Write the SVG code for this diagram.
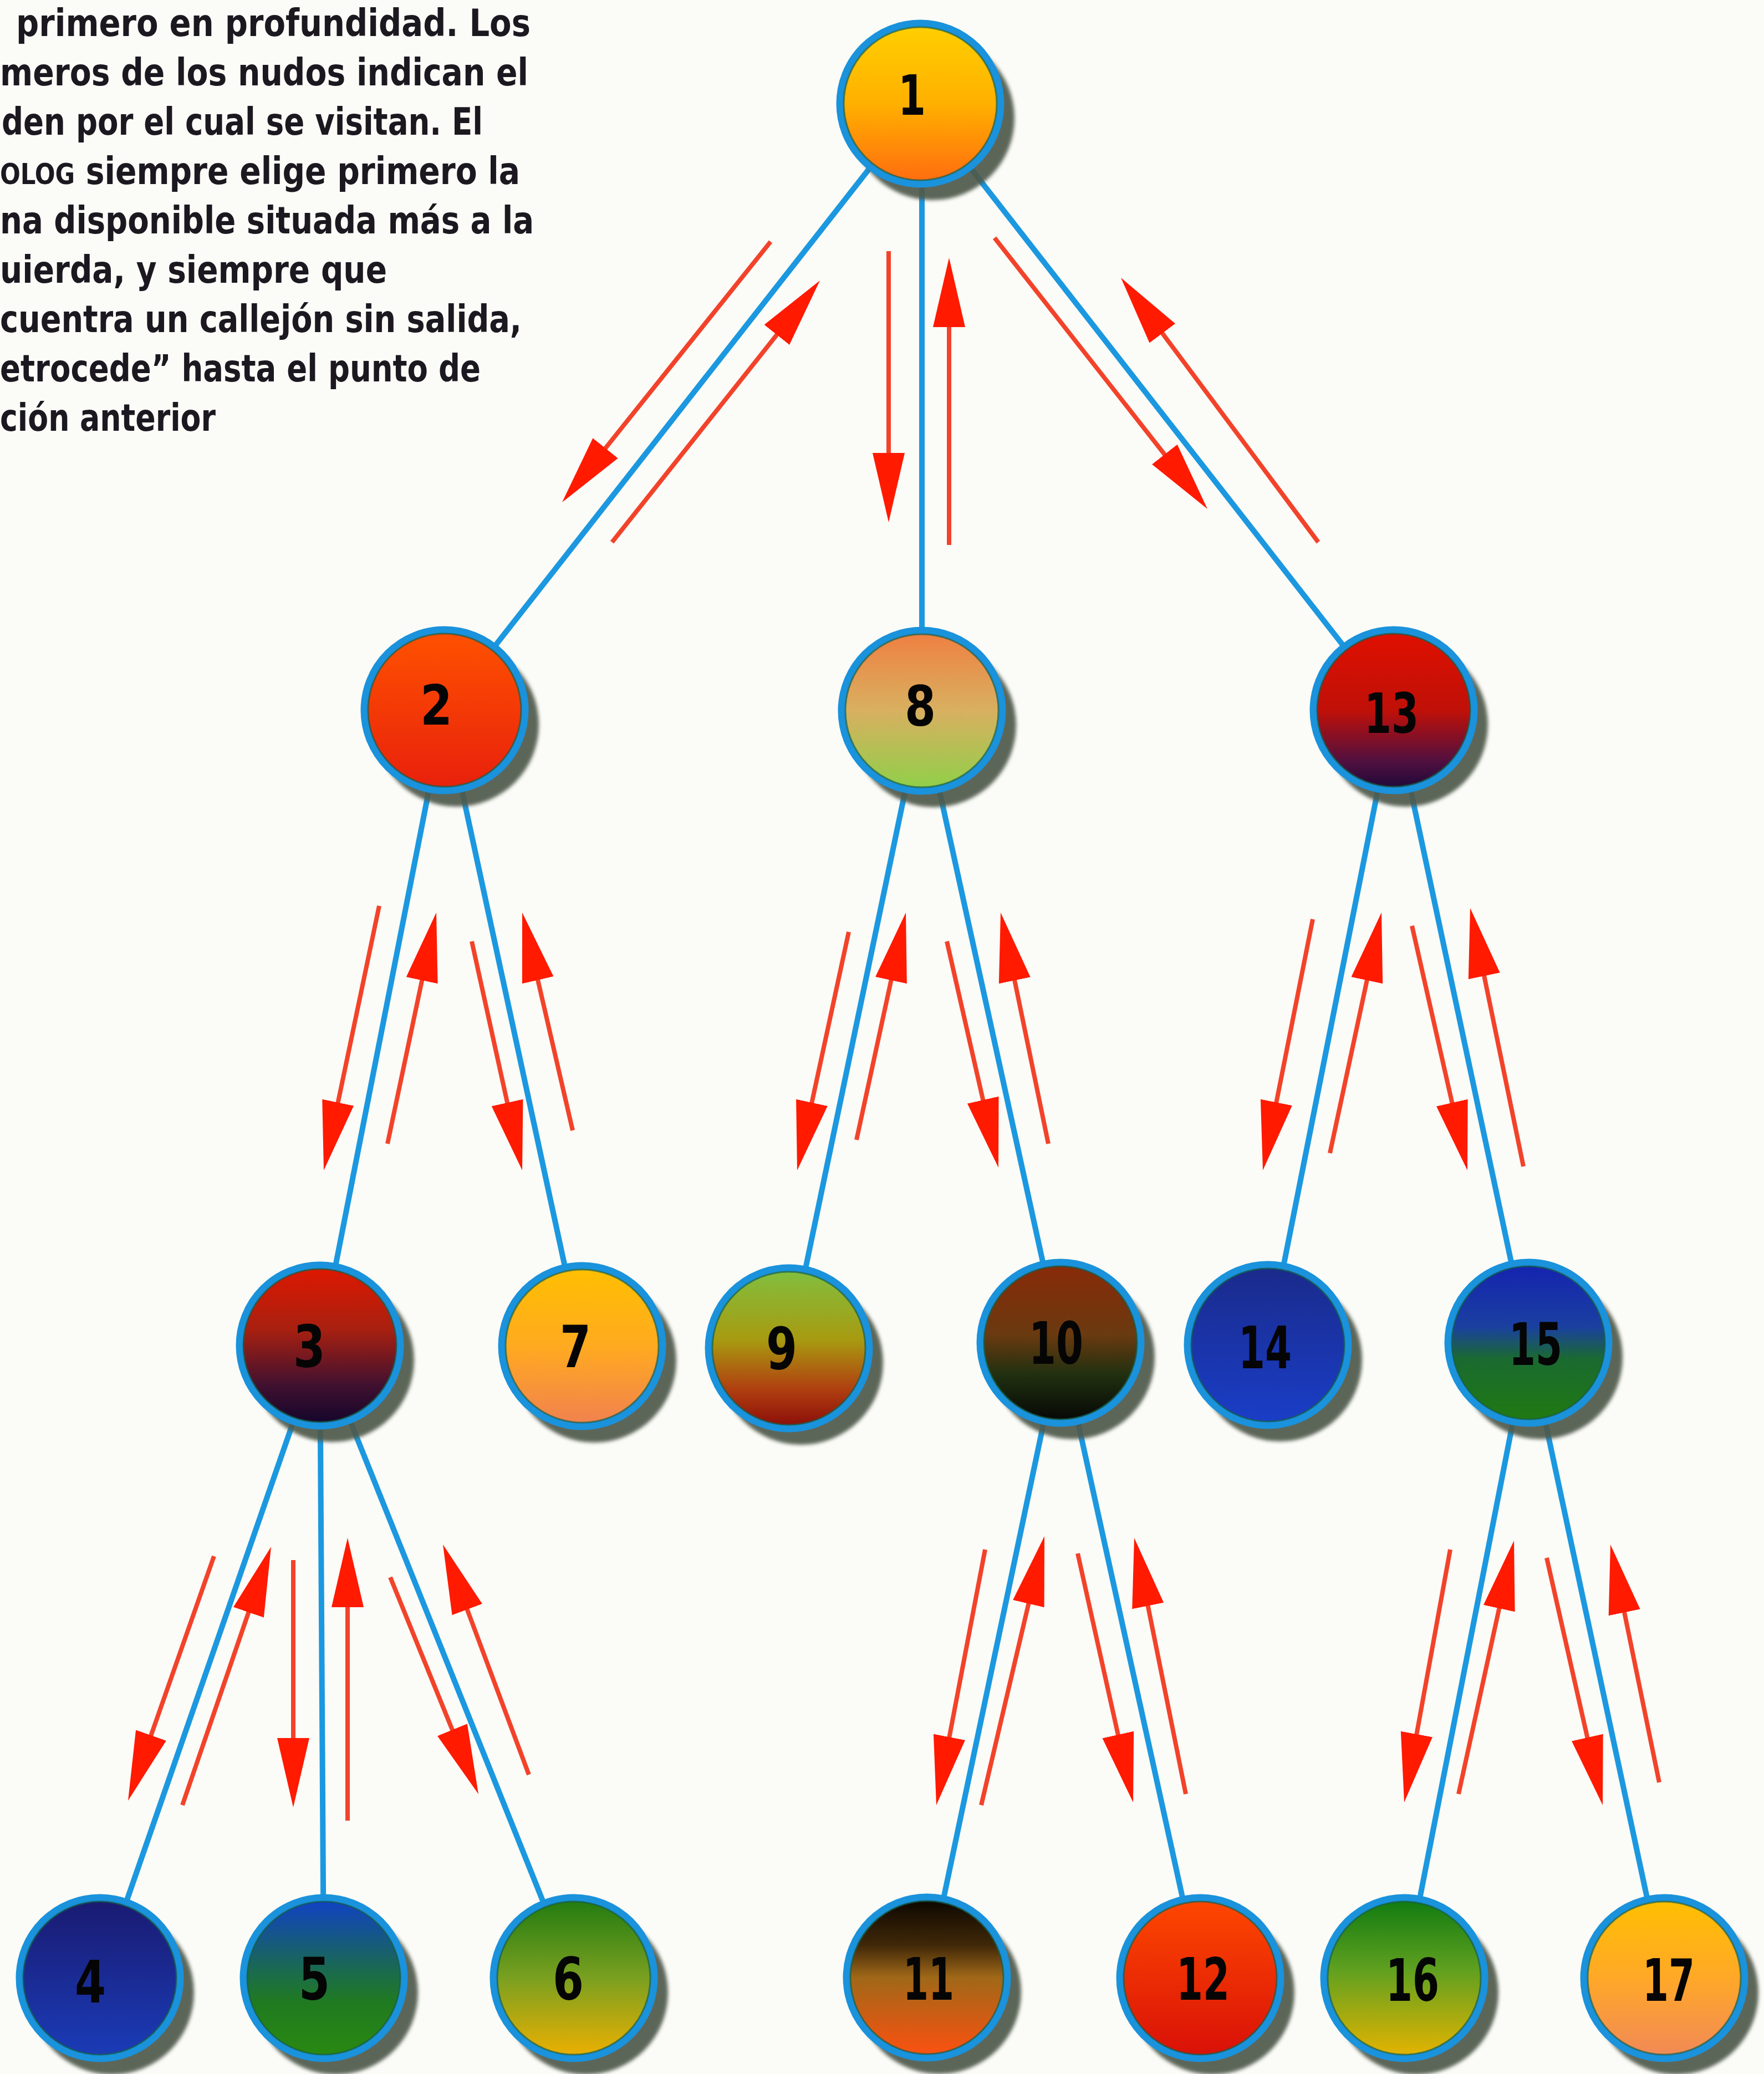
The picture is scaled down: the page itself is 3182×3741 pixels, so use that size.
<svg xmlns="http://www.w3.org/2000/svg" width="3182" height="3741" viewBox="0 0 3182 3741">
<defs>
<style>
.edge{stroke:#1b98e0;stroke-width:10;fill:none;stroke-linecap:round}
.arr{stroke:#f2432a;stroke-width:8;fill:none;marker-end:url(#head);stroke-dasharray:820 1000}
.sh{fill:#4f5a4c;opacity:0.92;filter:url(#soft)}
.ring{stroke:#1a92dc;stroke-width:13}
.inner{fill:none;stroke:#17604a;stroke-width:3;opacity:0.7}
.lbl{font-family:"Liberation Sans Narrow","DejaVu Sans Condensed","Liberation Sans",sans-serif;font-weight:bold;font-size:100px;fill:#050505;text-anchor:middle}
.lo{font-size:106px}
.txt{font-family:"Liberation Sans Narrow","DejaVu Sans Condensed","Liberation Sans",sans-serif;font-weight:bold;font-size:68px;fill:#1c1820}
</style>
<filter id="soft" x="-10%" y="-10%" width="120%" height="120%"><feGaussianBlur stdDeviation="3"/></filter>
<marker id="head" markerUnits="userSpaceOnUse" markerWidth="130" markerHeight="62" refX="125" refY="30" orient="auto" viewBox="0 0 130 62">
<path d="M0,1 L125,30 L0,59 z" fill="#ff1a00"/>
</marker>
<linearGradient id="g1" x1="0" y1="0" x2="0" y2="1"><stop offset="0" stop-color="#ffd000"/><stop offset="0.5" stop-color="#ffb000"/><stop offset="1" stop-color="#ff6a10"/></linearGradient>
<linearGradient id="g2" x1="0" y1="0" x2="0" y2="1"><stop offset="0" stop-color="#ff5200"/><stop offset="1" stop-color="#e8200c"/></linearGradient>
<linearGradient id="g8" x1="0" y1="0" x2="0" y2="1"><stop offset="0" stop-color="#f07e40"/><stop offset="0.5" stop-color="#d8b060"/><stop offset="1" stop-color="#8ed048"/></linearGradient>
<linearGradient id="g13" x1="0" y1="0" x2="0" y2="1"><stop offset="0" stop-color="#e01000"/><stop offset="0.5" stop-color="#c01008"/><stop offset="0.82" stop-color="#501040"/><stop offset="1" stop-color="#1a0838"/></linearGradient>
<linearGradient id="g3" x1="0" y1="0" x2="0" y2="1"><stop offset="0" stop-color="#e01800"/><stop offset="0.4" stop-color="#a82010"/><stop offset="0.75" stop-color="#401030"/><stop offset="1" stop-color="#10052a"/></linearGradient>
<linearGradient id="g7" x1="0" y1="0" x2="0" y2="1"><stop offset="0" stop-color="#ffc000"/><stop offset="0.5" stop-color="#ffaa20"/><stop offset="1" stop-color="#f08050"/></linearGradient>
<linearGradient id="g9" x1="0" y1="0" x2="0" y2="1"><stop offset="0" stop-color="#80c040"/><stop offset="0.45" stop-color="#a89a10"/><stop offset="0.75" stop-color="#b04010"/><stop offset="1" stop-color="#8a0a08"/></linearGradient>
<linearGradient id="g10" x1="0" y1="0" x2="0" y2="1"><stop offset="0" stop-color="#8a2a08"/><stop offset="0.45" stop-color="#6a3a10"/><stop offset="0.7" stop-color="#203010"/><stop offset="1" stop-color="#050505"/></linearGradient>
<linearGradient id="g14" x1="0" y1="0" x2="0" y2="1"><stop offset="0" stop-color="#1a2a8a"/><stop offset="1" stop-color="#1a3ec8"/></linearGradient>
<linearGradient id="g15" x1="0" y1="0" x2="0" y2="1"><stop offset="0" stop-color="#1422b0"/><stop offset="0.4" stop-color="#1a40a0"/><stop offset="0.6" stop-color="#1a6a30"/><stop offset="1" stop-color="#207a10"/></linearGradient>
<linearGradient id="g4" x1="0" y1="0" x2="0" y2="1"><stop offset="0" stop-color="#1a1a70"/><stop offset="1" stop-color="#1a3cb8"/></linearGradient>
<linearGradient id="g5" x1="0" y1="0" x2="0" y2="1"><stop offset="0" stop-color="#1040c8"/><stop offset="0.45" stop-color="#1a6a50"/><stop offset="0.65" stop-color="#207a20"/><stop offset="1" stop-color="#2a8a10"/></linearGradient>
<linearGradient id="g6" x1="0" y1="0" x2="0" y2="1"><stop offset="0" stop-color="#207a10"/><stop offset="0.5" stop-color="#7aa020"/><stop offset="1" stop-color="#f0b000"/></linearGradient>
<linearGradient id="g11" x1="0" y1="0" x2="0" y2="1"><stop offset="0" stop-color="#0a0500"/><stop offset="0.3" stop-color="#402808"/><stop offset="0.5" stop-color="#a06818"/><stop offset="1" stop-color="#ff5010"/></linearGradient>
<linearGradient id="g12" x1="0" y1="0" x2="0" y2="1"><stop offset="0" stop-color="#ff4800"/><stop offset="1" stop-color="#d81008"/></linearGradient>
<linearGradient id="g16" x1="0" y1="0" x2="0" y2="1"><stop offset="0" stop-color="#0e7a10"/><stop offset="0.45" stop-color="#60a020"/><stop offset="1" stop-color="#e8b400"/></linearGradient>
<linearGradient id="g17" x1="0" y1="0" x2="0" y2="1"><stop offset="0" stop-color="#ffc000"/><stop offset="0.5" stop-color="#ffa828"/><stop offset="1" stop-color="#f08858"/></linearGradient>
</defs>
<rect width="3182" height="3741" fill="#fbfbf7"/>

<g id="caption" class="txt">
<text x="29" y="65" textLength="928" lengthAdjust="spacingAndGlyphs">primero en profundidad. Los</text>
<text x="0" y="154" textLength="953" lengthAdjust="spacingAndGlyphs">meros de los nudos indican el</text>
<text x="3" y="243" textLength="868" lengthAdjust="spacingAndGlyphs">den por el cual se visitan. El</text>
<text x="0" y="332" textLength="938" lengthAdjust="spacingAndGlyphs"><tspan font-size="52">OLOG</tspan> siempre elige primero la</text>
<text x="0" y="421" textLength="963" lengthAdjust="spacingAndGlyphs">na disponible situada más a la</text>
<text x="0" y="510" textLength="698" lengthAdjust="spacingAndGlyphs">uierda, y siempre que</text>
<text x="0" y="599" textLength="941" lengthAdjust="spacingAndGlyphs">cuentra un callejón sin salida,</text>
<text x="0" y="688" textLength="867" lengthAdjust="spacingAndGlyphs">etrocede” hasta el punto de</text>
<text x="0" y="777" textLength="389" lengthAdjust="spacingAndGlyphs">ción anterior</text>
</g>

<g id="connectors">
<line class="edge" x1="1660" y1="187" x2="802" y2="1281"/>
<line class="edge" x1="1663" y1="187" x2="1663" y2="1282"/>
<line class="edge" x1="1660" y1="187" x2="2514" y2="1281"/>
<line class="edge" x1="802" y1="1281" x2="577" y2="2427"/>
<line class="edge" x1="802" y1="1281" x2="1050" y2="2428"/>
<line class="edge" x1="1663" y1="1282" x2="1423" y2="2432"/>
<line class="edge" x1="1663" y1="1282" x2="1913" y2="2422"/>
<line class="edge" x1="2514" y1="1281" x2="2287" y2="2426"/>
<line class="edge" x1="2514" y1="1281" x2="2757" y2="2422"/>
<line class="edge" x1="577" y1="2427" x2="180" y2="3568"/>
<line class="edge" x1="577" y1="2427" x2="584" y2="3568"/>
<line class="edge" x1="577" y1="2427" x2="1035" y2="3568"/>
<line class="edge" x1="1913" y1="2422" x2="1672" y2="3567"/>
<line class="edge" x1="1913" y1="2422" x2="2165" y2="3568"/>
<line class="edge" x1="2757" y1="2422" x2="2533" y2="3568"/>
<line class="edge" x1="2757" y1="2422" x2="3002" y2="3568"/>

<line class="arr" pathLength="1000" x1="1390" y1="436" x2="1014" y2="906"/>
<line class="arr" pathLength="1000" x1="1104" y1="978" x2="1479" y2="506"/>
<line class="arr" pathLength="1000" x1="1603" y1="453" x2="1603" y2="942"/>
<line class="arr" pathLength="1000" x1="1712" y1="983" x2="1712" y2="465"/>
<line class="arr" pathLength="1000" x1="1794" y1="429" x2="2178" y2="918"/>
<line class="arr" pathLength="1000" x1="2378" y1="978" x2="2022" y2="501"/>

<line class="arr" pathLength="1000" x1="684" y1="1634" x2="584" y2="2111"/>
<line class="arr" pathLength="1000" x1="699" y1="2063" x2="787" y2="1646"/>
<line class="arr" pathLength="1000" x1="851" y1="1698" x2="942" y2="2111"/>
<line class="arr" pathLength="1000" x1="1033" y1="2039" x2="942" y2="1646"/>
<line class="arr" pathLength="1000" x1="1531" y1="1681" x2="1438" y2="2111"/>
<line class="arr" pathLength="1000" x1="1545" y1="2056" x2="1634" y2="1646"/>
<line class="arr" pathLength="1000" x1="1708" y1="1698" x2="1801" y2="2106"/>
<line class="arr" pathLength="1000" x1="1891" y1="2063" x2="1805" y2="1646"/>
<line class="arr" pathLength="1000" x1="2368" y1="1658" x2="2278" y2="2111"/>
<line class="arr" pathLength="1000" x1="2399" y1="2080" x2="2492" y2="1646"/>
<line class="arr" pathLength="1000" x1="2547" y1="1670" x2="2647" y2="2111"/>
<line class="arr" pathLength="1000" x1="2748" y1="2104" x2="2652" y2="1638"/>

<line class="arr" pathLength="1000" x1="386" y1="2807" x2="231" y2="3248"/>
<line class="arr" pathLength="1000" x1="329" y1="3256" x2="489" y2="2790"/>
<line class="arr" pathLength="1000" x1="529" y1="2814" x2="529" y2="3260"/>
<line class="arr" pathLength="1000" x1="627" y1="3284" x2="627" y2="2774"/>
<line class="arr" pathLength="1000" x1="704" y1="2845" x2="863" y2="3236"/>
<line class="arr" pathLength="1000" x1="954" y1="3201" x2="799" y2="2786"/>
<line class="arr" pathLength="1000" x1="1777" y1="2795" x2="1689" y2="3256"/>
<line class="arr" pathLength="1000" x1="1770" y1="3256" x2="1884" y2="2771"/>
<line class="arr" pathLength="1000" x1="1944" y1="2802" x2="2044" y2="3251"/>
<line class="arr" pathLength="1000" x1="2139" y1="3236" x2="2046" y2="2774"/>
<line class="arr" pathLength="1000" x1="2616" y1="2795" x2="2533" y2="3251"/>
<line class="arr" pathLength="1000" x1="2631" y1="3236" x2="2731" y2="2779"/>
<line class="arr" pathLength="1000" x1="2790" y1="2810" x2="2891" y2="3256"/>
<line class="arr" pathLength="1000" x1="2993" y1="3215" x2="2905" y2="2786"/>
</g>

<g id="node-1"><circle class="sh" cx="1682" cy="213" r="148"/><circle class="ring" cx="1660" cy="187" r="145" fill="url(#g1)"/><circle class="inner" cx="1660" cy="187" r="138"/><text class="lbl" x="1645" y="207" textLength="50" lengthAdjust="spacingAndGlyphs">1</text></g>
<g id="node-2"><circle class="sh" cx="824" cy="1307" r="148"/><circle class="ring" cx="802" cy="1281" r="145" fill="url(#g2)"/><circle class="inner" cx="802" cy="1281" r="138"/><text class="lbl" x="787" y="1307" textLength="58" lengthAdjust="spacingAndGlyphs">2</text></g>
<g id="node-8"><circle class="sh" cx="1685" cy="1308" r="148"/><circle class="ring" cx="1663" cy="1282" r="145" fill="url(#g8)"/><circle class="inner" cx="1663" cy="1282" r="138"/><text class="lbl" x="1660" y="1309" textLength="56" lengthAdjust="spacingAndGlyphs">8</text></g>
<g id="node-13"><circle class="sh" cx="2536" cy="1307" r="148"/><circle class="ring" cx="2514" cy="1281" r="145" fill="url(#g13)"/><circle class="inner" cx="2514" cy="1281" r="138"/><text class="lbl" x="2510" y="1322" textLength="98" lengthAdjust="spacingAndGlyphs">13</text></g>
<g id="node-3"><circle class="sh" cx="599" cy="2453" r="148"/><circle class="ring" cx="577" cy="2427" r="145" fill="url(#g3)"/><circle class="inner" cx="577" cy="2427" r="138"/><text class="lbl lo" x="558" y="2466" textLength="58" lengthAdjust="spacingAndGlyphs">3</text></g>
<g id="node-7"><circle class="sh" cx="1072" cy="2454" r="148"/><circle class="ring" cx="1050" cy="2428" r="145" fill="url(#g7)"/><circle class="inner" cx="1050" cy="2428" r="138"/><text class="lbl lo" x="1038" y="2466" textLength="56" lengthAdjust="spacingAndGlyphs">7</text></g>
<g id="node-9"><circle class="sh" cx="1445" cy="2458" r="148"/><circle class="ring" cx="1423" cy="2432" r="145" fill="url(#g9)"/><circle class="inner" cx="1423" cy="2432" r="138"/><text class="lbl lo" x="1410" y="2470" textLength="56" lengthAdjust="spacingAndGlyphs">9</text></g>
<g id="node-10"><circle class="sh" cx="1935" cy="2448" r="148"/><circle class="ring" cx="1913" cy="2422" r="145" fill="url(#g10)"/><circle class="inner" cx="1913" cy="2422" r="138"/><text class="lbl lo" x="1905" y="2460" textLength="98" lengthAdjust="spacingAndGlyphs">10</text></g>
<g id="node-14"><circle class="sh" cx="2309" cy="2452" r="148"/><circle class="ring" cx="2287" cy="2426" r="145" fill="url(#g14)"/><circle class="inner" cx="2287" cy="2426" r="138"/><text class="lbl lo" x="2282" y="2468" textLength="96" lengthAdjust="spacingAndGlyphs">14</text></g>
<g id="node-15"><circle class="sh" cx="2779" cy="2448" r="148"/><circle class="ring" cx="2757" cy="2422" r="145" fill="url(#g15)"/><circle class="inner" cx="2757" cy="2422" r="138"/><text class="lbl lo" x="2770" y="2462" textLength="96" lengthAdjust="spacingAndGlyphs">15</text></g>
<g id="node-4"><circle class="sh" cx="202" cy="3594" r="148"/><circle class="ring" cx="180" cy="3568" r="145" fill="url(#g4)"/><circle class="inner" cx="180" cy="3568" r="138"/><text class="lbl lo" x="163" y="3612" textLength="56" lengthAdjust="spacingAndGlyphs">4</text></g>
<g id="node-5"><circle class="sh" cx="606" cy="3594" r="148"/><circle class="ring" cx="584" cy="3568" r="145" fill="url(#g5)"/><circle class="inner" cx="584" cy="3568" r="138"/><text class="lbl lo" x="567" y="3607" textLength="56" lengthAdjust="spacingAndGlyphs">5</text></g>
<g id="node-6"><circle class="sh" cx="1057" cy="3594" r="148"/><circle class="ring" cx="1035" cy="3568" r="145" fill="url(#g6)"/><circle class="inner" cx="1035" cy="3568" r="138"/><text class="lbl lo" x="1025" y="3607" textLength="56" lengthAdjust="spacingAndGlyphs">6</text></g>
<g id="node-11"><circle class="sh" cx="1694" cy="3593" r="148"/><circle class="ring" cx="1672" cy="3567" r="145" fill="url(#g11)"/><circle class="inner" cx="1672" cy="3567" r="138"/><text class="lbl lo" x="1675" y="3607" textLength="92" lengthAdjust="spacingAndGlyphs">11</text></g>
<g id="node-12"><circle class="sh" cx="2187" cy="3594" r="148"/><circle class="ring" cx="2165" cy="3568" r="145" fill="url(#g12)"/><circle class="inner" cx="2165" cy="3568" r="138"/><text class="lbl lo" x="2170" y="3607" textLength="96" lengthAdjust="spacingAndGlyphs">12</text></g>
<g id="node-16"><circle class="sh" cx="2555" cy="3594" r="148"/><circle class="ring" cx="2533" cy="3568" r="145" fill="url(#g16)"/><circle class="inner" cx="2533" cy="3568" r="138"/><text class="lbl lo" x="2548" y="3609" textLength="96" lengthAdjust="spacingAndGlyphs">16</text></g>
<g id="node-17"><circle class="sh" cx="3024" cy="3594" r="148"/><circle class="ring" cx="3002" cy="3568" r="145" fill="url(#g17)"/><circle class="inner" cx="3002" cy="3568" r="138"/><text class="lbl lo" x="3010" y="3609" textLength="94" lengthAdjust="spacingAndGlyphs">17</text></g>
</svg>
